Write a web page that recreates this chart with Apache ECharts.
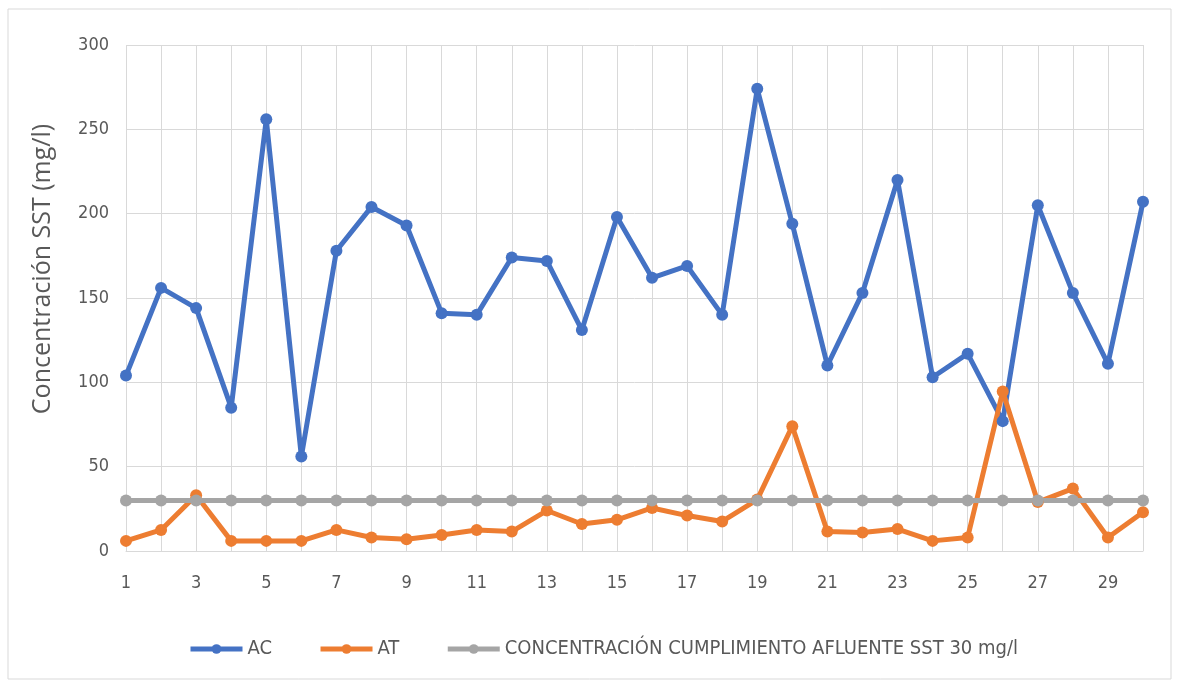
<!DOCTYPE html>
<html>
<head>
<meta charset="utf-8">
<script src="https://cdn.jsdelivr.net/npm/echarts@6/dist/echarts.min.js"></script>
<style>
  html, body { margin: 0; padding: 0; background: #fff; }
  #chart { width: 1177px; height: 684px; }
</style>
</head>
<body>
<div id="chart"></div>
<script>
// Days of sampling
const days = Array.from({ length: 30 }, (_, i) => String(i + 1));

// SST concentration (mg/l)
const acValues = [104, 156, 144, 85, 256, 56, 178, 204, 193, 141, 140, 174, 172, 131, 198,
                  162, 169, 140, 274, 194, 110, 153, 220, 103, 117, 77, 205, 153, 111, 207];
const atValues = [6, 12.5, 33, 6, 6, 6, 12.5, 8, 7, 9.5, 12.5, 11.5, 24, 16, 18.5,
                  25.5, 21, 17.5, 30.5, 74, 11.5, 11, 13, 6, 8, 94.5, 29, 37, 8, 23];
const limitValues = days.map(() => 30);

const seriesNames = ['AC', 'AT', 'CONCENTRACIÓN CUMPLIMIENTO AFLUENTE SST 30 mg/l'];
const colors = ['#4472C4', '#ED7D31', '#A5A5A5'];
const yTitle = 'Concentración SST (mg/l)';

// Pick the narrowest installed sans face for the labels
function hasFont(name) {
  const ctx = document.createElement('canvas').getContext('2d');
  const sample = 'mmmmmwwwlli1IOC0123';
  return ['monospace', 'serif'].some(base => {
    ctx.font = '40px ' + base;
    const w0 = ctx.measureText(sample).width;
    ctx.font = '40px "' + name + '", ' + base;
    return ctx.measureText(sample).width !== w0;
  });
}
let labelFont, tickSize, legendSize;
if (hasFont('Liberation Sans Narrow')) {
  labelFont = '"Liberation Sans Narrow"'; tickSize = 19; legendSize = 22;
} else if (hasFont('DejaVu Sans Condensed')) {
  labelFont = '"DejaVu Sans Condensed"'; tickSize = 18; legendSize = 20;
} else {
  labelFont = '"Open Sans"'; tickSize = 17; legendSize = 19;
}
labelFont += ', "Open Sans", sans-serif';
const textColor = '#595959';

const chart = echarts.init(document.getElementById('chart'));

function lineSeries(name, data, color) {
  return {
    name: name,
    type: 'line',
    data: data,
    symbol: 'circle',
    symbolSize: 12,
    lineStyle: { width: 5, color: color },
    itemStyle: { color: color },
    animation: false
  };
}

chart.setOption({
  color: colors,
  animation: false,
  graphic: [
    {
      type: 'rect',
      shape: { x: 8, y: 9, width: 1163, height: 670 },
      style: { fill: 'none', stroke: '#D9D9D9', lineWidth: 1 },
      silent: true
    },
    {
      type: 'text',
      x: 43,
      y: 269,
      rotation: Math.PI / 2,
      style: {
        text: yTitle,
        fill: textColor,
        font: '25px "Open Sans", sans-serif',
        align: 'center',
        verticalAlign: 'middle'
      },
      silent: true
    }
  ],
  grid: { left: 126, right: 34, top: 45, bottom: 133 },
  legend: {
    top: 634,
    left: 183,
    itemGap: 46,
    itemWidth: 52,
    itemHeight: 12,
    lineStyle: { width: 5 },
    textStyle: { fontFamily: labelFont, fontSize: legendSize, color: textColor },
    data: seriesNames
  },
  xAxis: {
    type: 'category',
    data: days,
    boundaryGap: false,
    axisLine: { show: true, lineStyle: { color: '#D9D9D9' } },
    axisTick: { show: false },
    axisLabel: { interval: 1, fontFamily: labelFont, fontSize: tickSize, color: textColor, margin: 23 },
    splitLine: { show: true, interval: 0, lineStyle: { color: '#D9D9D9' } }
  },
  yAxis: {
    type: 'value',
    min: 0,
    max: 300,
    interval: 50,
    axisLine: { show: false },
    axisTick: { show: false },
    axisLabel: { fontFamily: labelFont, fontSize: tickSize, color: textColor, margin: 17 },
    splitLine: { lineStyle: { color: '#D9D9D9' } }
  },
  series: [
    lineSeries(seriesNames[0], acValues, colors[0]),
    lineSeries(seriesNames[1], atValues, colors[1]),
    lineSeries(seriesNames[2], limitValues, colors[2])
  ]
});
</script>
</body>
</html>
